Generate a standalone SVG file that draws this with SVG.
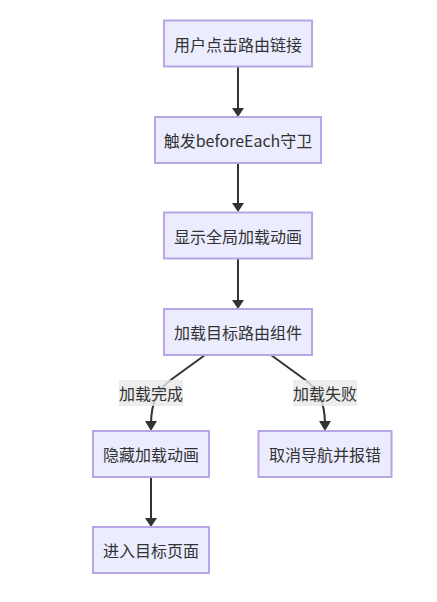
<svg xmlns="http://www.w3.org/2000/svg" width="437" height="602" viewBox="0 0 437 602">
<style>
.node rect{fill:#ECECFF;stroke:#b8a5e6;stroke-width:2}
.node text,.lbl text{font-family:"Noto Sans CJK SC","Liberation Sans",sans-serif;font-size:16px;fill:#333;text-anchor:middle;dominant-baseline:central}
.edge{fill:none;stroke:#333;stroke-width:2}
.head{fill:#333}
.lbl rect{fill:#e8e8e8;opacity:0.8}
</style>
<rect width="437" height="602" fill="#fff"/>
<g id="edges">
<path class="edge" d="M238,67 L238,111"/>
<path class="head" d="M232,108 L244,108 L238,117 z"/>
<path class="edge" d="M238,163 L238,206"/>
<path class="head" d="M232,203 L244,203 L238,212 z"/>
<path class="edge" d="M238,259 L238,303"/>
<path class="head" d="M232,300 L244,300 L238,309 z"/>
<path class="edge" d="M205,355 L172,379 C158,389 151,402 151,424"/>
<path class="head" d="M145,421 L157,421 L151,431 z"/>
<path class="edge" d="M271,355 L304,379 C318,389 325,402 325,424"/>
<path class="head" d="M319,421 L331,421 L325,431 z"/>
<path class="edge" d="M151,477 L151,521"/>
<path class="head" d="M145,518 L157,518 L151,527 z"/>
</g>
<g class="lbl" id="label1"><rect x="119" y="380" width="64" height="26"/><text x="151" y="393">加载完成</text></g>
<g class="lbl" id="label2"><rect x="293" y="380" width="64" height="26"/><text x="325" y="393">加载失败</text></g>
<g class="node" id="n1"><rect x="164" y="20.5" width="148" height="46"/><text x="238" y="44">用户点击路由链接</text></g>
<g class="node" id="n2"><rect x="155" y="117" width="166" height="46"/><text x="238" y="140">触发beforeEach守卫</text></g>
<g class="node" id="n3"><rect x="164" y="212.5" width="148" height="46"/><text x="238" y="236">显示全局加载动画</text></g>
<g class="node" id="n4"><rect x="164" y="309" width="148" height="46"/><text x="238" y="332">加载目标路由组件</text></g>
<g class="node" id="n5"><rect x="93" y="431" width="116" height="46"/><text x="151" y="454">隐藏加载动画</text></g>
<g class="node" id="n6"><rect x="258.5" y="431" width="133" height="46"/><text x="325" y="454">取消导航并报错</text></g>
<g class="node" id="n7"><rect x="93" y="527" width="116" height="46"/><text x="151" y="550">进入目标页面</text></g>
</svg>
